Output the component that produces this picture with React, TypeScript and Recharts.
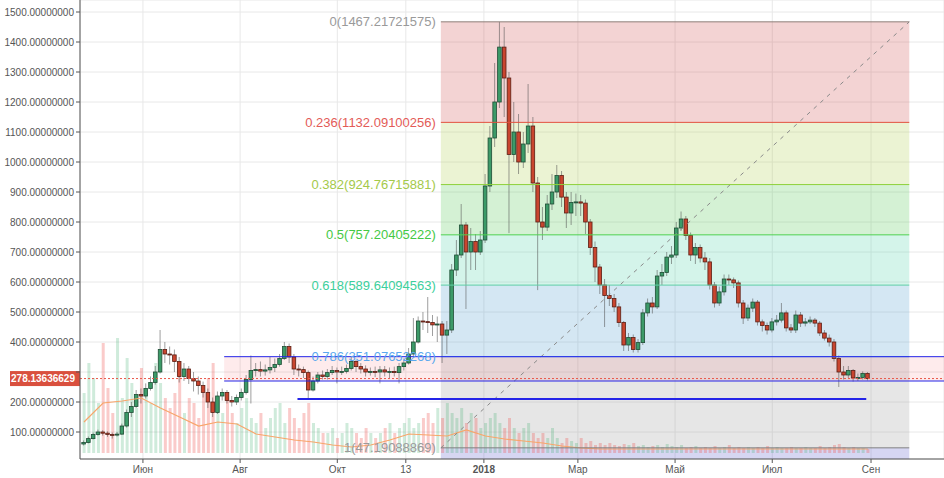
import React from "react";
import {
  ComposedChart,
  Bar,
  Line,
  XAxis,
  YAxis,
  CartesianGrid,
  ReferenceArea,
  ReferenceLine,
  Cell,
} from "recharts";

// one candle every 3 days, days counted from 1 Jun 2017
const startDay = -37;
const stepDays = 3;
const firstOpen = 60;

const closes = [
  65, 78, 92, 100, 96, 92, 90, 93, 120, 165,
  185, 225, 220, 245, 265, 300, 375, 360, 357, 335,
  285, 310, 278, 270, 255, 232, 200, 165, 220, 232,
  205, 200, 215, 232, 275, 305, 308, 303, 307, 315,
  325, 345, 385, 350, 310, 308, 298, 240, 270, 290,
  285, 298, 305, 300, 302, 312, 335, 318, 310, 300,
  302, 300, 307, 300, 302, 298, 318, 330, 360, 400,
  470, 468, 465, 457, 460, 423, 440, 640, 690, 790,
  700, 735, 700, 740, 920, 1080, 1200, 1383, 1280, 1025,
  1100, 1000, 1060, 1120, 930, 800, 783, 860, 900, 955,
  883, 830, 865, 867, 863, 800, 715, 650, 590, 555,
  545, 517, 465, 390, 415, 375, 398, 497, 530, 517,
  620, 632, 683, 690, 780, 810, 755, 690, 715, 680,
  667, 590, 530, 567, 610, 607, 597, 530, 480, 513,
  533, 467, 455, 440, 467, 473, 497, 447, 440, 490,
  463, 467, 473, 463, 430, 413, 400, 345, 300, 290,
  305, 280, 282, 295, 278,
];

const highs = [
  72, 85, 98, 108, 106, 102, 98, 100, 128, 175,
  200, 240, 245, 262, 285, 320, 440, 400, 385, 375,
  350, 330, 320, 300, 285, 268, 245, 215, 235, 245,
  240, 220, 225, 245, 290, 355, 330, 335, 325, 350,
  345, 360, 400, 395, 360, 325, 318, 305, 285, 300,
  305, 310, 320, 315, 318, 325, 350, 340, 330, 322,
  315, 318, 320, 320, 315, 318, 330, 345, 380, 480,
  485, 500, 550, 490, 485, 470, 470, 660, 740, 860,
  800, 780, 760, 770, 960, 1120, 1330, 1467, 1450, 1300,
  1200, 1160, 1100, 1260, 1150, 950, 850, 890, 960, 990,
  970, 900, 900, 895, 890, 875, 810, 735, 660, 610,
  590, 560, 530, 470, 430, 425, 410, 510, 545, 550,
  640, 660, 700, 720, 800, 835, 820, 765, 730, 725,
  700, 680, 600, 585, 625, 625, 615, 605, 540, 525,
  545, 540, 475, 465, 480, 490, 530, 505, 460, 505,
  500, 480, 485, 480, 470, 440, 425, 410, 355, 320,
  320, 310, 295, 302, 300,
];

const lows = [
  55, 62, 75, 88, 88, 84, 78, 85, 90, 115,
  150, 180, 195, 212, 238, 258, 295, 330, 325, 300,
  265, 270, 260, 235, 225, 215, 180, 150, 160, 205,
  195, 185, 190, 205, 225, 195, 285, 285, 288, 295,
  300, 318, 340, 330, 290, 285, 280, 210, 235, 262,
  275, 275, 290, 262, 290, 295, 305, 300, 295, 285,
  288, 283, 262, 285, 280, 285, 262, 305, 325, 350,
  395, 440, 430, 420, 400, 330, 360, 430, 620, 680,
  510, 640, 640, 690, 730, 900, 1050, 1180, 1150, 763,
  1000, 960, 980, 1030, 900, 573, 740, 770, 840, 880,
  850, 780, 790, 820, 820, 760, 690, 600, 560, 450,
  520, 500, 450, 370, 370, 365, 365, 390, 485, 495,
  510, 590, 620, 660, 680, 770, 740, 670, 660, 665,
  640, 575, 515, 520, 555, 590, 580, 515, 460, 470,
  500, 455, 435, 425, 432, 455, 465, 435, 430, 430,
  450, 452, 460, 450, 420, 405, 385, 335, 250, 275,
  280, 268, 270, 275, 272,
];

const volumes = [
  60, 90, 75, 50, 110, 65, 40, 115, 55, 95,
  70, 45, 85, 60, 50, 90, 70, 55, 45, 60,
  80, 40, 55, 50, 35, 60, 75, 90, 50, 40,
  55, 40, 30, 45, 55, 35, 30, 40, 25, 35,
  45, 50, 30, 45, 35, 25, 40, 50, 30, 25,
  20, 20, 25, 15, 20, 30, 25, 20, 15, 25,
  20, 15, 20, 25, 30, 20, 25, 30, 35, 25,
  30, 35, 40, 30, 45, 35, 50, 40, 35, 45,
  30, 40, 35, 25, 30, 35, 40, 30, 25, 35,
  25, 20, 25, 30, 20, 15, 20, 15, 25, 15,
  10, 15, 12, 10, 15, 10, 12, 8, 10, 8,
  10, 8, 7, 9, 8, 10, 7, 8, 6, 7,
  8, 6, 9, 7, 6, 8, 5, 6, 7, 5,
  6, 5, 7, 5, 6, 8, 5, 6, 5, 6,
  5, 6, 5, 7, 5, 6, 5, 5, 6, 5,
  5, 6, 5, 5, 7, 5, 6, 8, 9, 6,
  5, 6, 5, 5, 4,
];

// volume moving average, one reading every 4th candle
const maEvery = 4;
const volMa = [
  31, 50, 52, 55, 45, 36, 27, 31, 29, 19,
  16, 13, 11, 8, 6, 8, 13, 19, 18, 17,
  23, 17, 14, 12, 10, 7, 5, 4, 4, 4,
  4, 4, 4, 4, 4, 4, 4, 4, 4, 4,
  4, 4,
];

const tickDays = [0, 61, 122, 165, 214, 273, 334, 395, 457];
const tickLabels = ["Июн", "Авг", "Окт", "13", "2018", "Мар", "Май", "Июл", "Сен"];
const priceTicks = [100, 200, 300, 400, 500, 600, 700, 800, 900, 1000, 1100, 1200, 1300, 1400, 1500];

const lastPrice = 278.13636629;

const fibHigh = 1467.21721575;
const fibLow = 47.19088869;
const fibStartDay = 187;
const fibEndDay = 481;
const fibLevels = [0, 0.236, 0.382, 0.5, 0.618, 0.786, 1];
const fibLineColors = ["#8e7f79", "#e2503f", "#8ed13a", "#4fd14f", "#5fcfa6", "#5aa8ee", "#808080"];
const fibLabelColors = ["#9a9a9a", "#e35b57", "#a4c94a", "#44c944", "#3ccf9c", "#5aa8ee", "#9a9a9a"];
const fibZoneColors = ["#cf4f4f", "#afcf4f", "#53c753", "#53d3ab", "#539fcf", "#9b9b9b"];
const fibBelowColor = "#5b5bcb";

const bandTop = 351.08;
const bandBottom = 270;
const bandStartDay = 51;
const supportPrice = 210;
const supportStartDay = 97;
const supportEndDay = 454;

const xDomain: [number, number] = [-39.5, 502.8];
const yDomain: [number, number] = [10, 1540];

const rows = closes.map((c, i) => ({
  t: startDay + i * stepDays,
  o: i === 0 ? firstOpen : closes[i - 1],
  c,
  h: highs[i],
  l: lows[i],
  vol: volumes[i],
  ma: i % maEvery === 0 ? volMa[i / maEvery] : null,
}));

const fibPrice = (lvl: number) => fibHigh - lvl * (fibHigh - fibLow);

const Candle = (props: any) => {
  const { x, y, width, height, payload } = props;
  if (x == null || payload == null) return null;
  const { o, c, h, l } = payload;
  const top = Math.min(y, y + height);
  const span = Math.abs(height);
  const k = h > l ? span / (h - l) : 0;
  const yo = top + (h - o) * k;
  const yc = top + (h - c) * k;
  const cx = x + width / 2;
  const up = c >= o;
  const bodyTop = Math.min(yo, yc);
  const bodyH = Math.max(1, Math.abs(yc - yo));
  return (
    <g>
      <line x1={cx} x2={cx} y1={top} y2={top + span} stroke="rgba(80,80,80,0.55)" strokeWidth={1} />
      <rect
        x={cx - 1.8}
        y={bodyTop}
        width={3.6}
        height={bodyH}
        fill={up ? "#3c9a68" : "#c9452f"}
        stroke={up ? "#1e4d35" : "#5b1f14"}
        strokeWidth={0.8}
      />
    </g>
  );
};

const PriceTag = (props: any) => {
  const vb = props.viewBox;
  if (!vb) return null;
  return (
    <g>
      <rect x={vb.x - 70} y={vb.y - 7.5} width={70} height={15} fill="#d9503e" />
      <text x={vb.x - 5} y={vb.y} dy="0.35em" textAnchor="end" fill="#fff" fontSize={10} fontWeight="bold">
        {lastPrice.toFixed(8)}
      </text>
    </g>
  );
};

const DayTick = (props: any) => {
  const { x, y, payload } = props;
  const i = tickDays.indexOf(payload.value);
  const label = i >= 0 ? tickLabels[i] : "";
  return (
    <text x={x} y={y} dy="0.71em" textAnchor="middle" fontSize={10} fill="#555" fontWeight={label === "2018" ? "bold" : "normal"}>
      {label}
    </text>
  );
};

// the 300 label sits under the last-price tag, so it is not written
const priceTickText = (v: number) => (Math.abs(v - lastPrice) < 40 ? "" : v.toFixed(8));

export default function App() {
  return (
    <div style={{ position: "absolute", left: 0, top: 0, fontFamily: "'Liberation Sans', Arial, sans-serif" }}>
      <ComposedChart width={944} height={478} data={rows} margin={{ top: 0, right: 0, bottom: 0, left: 0 }}>
        <CartesianGrid xAxisId="main" yAxisId="price" stroke="#e8e8e8" />

        {fibLevels.slice(0, -1).map((lvl, i) => (
          <ReferenceArea
            key={"z" + lvl}
            xAxisId="main"
            yAxisId="price"
            x1={fibStartDay}
            x2={fibEndDay}
            y1={fibPrice(fibLevels[i + 1])}
            y2={fibPrice(lvl)}
            fill={fibZoneColors[i]}
            fillOpacity={0.25}
            stroke="none"
          />
        ))}
        <ReferenceArea
          xAxisId="main"
          yAxisId="price"
          x1={fibStartDay}
          x2={fibEndDay}
          y1={yDomain[0]}
          y2={fibLow}
          fill={fibBelowColor}
          fillOpacity={0.25}
          stroke="none"
        />
        <ReferenceArea
          xAxisId="main"
          yAxisId="price"
          x1={bandStartDay}
          x2={xDomain[1]}
          y1={bandBottom}
          y2={bandTop}
          fill="#f23645"
          fillOpacity={0.1}
          stroke="none"
        />

        <Bar xAxisId="v" yAxisId="vol" dataKey="vol" barSize={3} isAnimationActive={false}>
          {rows.map((r, i) => (
            <Cell key={i} fill={r.c >= r.o ? "rgba(38,166,91,0.22)" : "rgba(239,83,80,0.3)"} />
          ))}
        </Bar>
        <Line
          xAxisId="v"
          yAxisId="vol"
          dataKey="ma"
          stroke="#f8a56a"
          strokeWidth={1.2}
          dot={false}
          connectNulls
          isAnimationActive={false}
        />

        <Bar
          xAxisId="main"
          yAxisId="price"
          dataKey={(d: any) => [d.l, d.h]}
          barSize={4}
          shape={<Candle />}
          isAnimationActive={false}
        />

        <ReferenceLine
          xAxisId="main"
          yAxisId="price"
          segment={[
            { x: fibStartDay, y: fibLow },
            { x: fibEndDay, y: fibHigh },
          ]}
          stroke="#8a8a8a"
          strokeDasharray="4 5"
        />
        {fibLevels.map((lvl, i) => (
          <ReferenceLine
            key={"l" + lvl}
            xAxisId="main"
            yAxisId="price"
            segment={[
              { x: fibStartDay, y: fibPrice(lvl) },
              { x: fibEndDay, y: fibPrice(lvl) },
            ]}
            stroke={fibLineColors[i]}
            strokeWidth={1}
            label={{
              value: `${lvl}(${fibPrice(lvl).toFixed(8)})`,
              position: "left",
              fill: fibLabelColors[i],
              fontSize: 13,
              offset: 5,
            }}
          />
        ))}

        <ReferenceLine
          xAxisId="main"
          yAxisId="price"
          segment={[
            { x: bandStartDay, y: bandTop },
            { x: xDomain[1], y: bandTop },
          ]}
          stroke="#2424e8"
        />
        <ReferenceLine
          xAxisId="main"
          yAxisId="price"
          segment={[
            { x: bandStartDay, y: bandBottom },
            { x: xDomain[1], y: bandBottom },
          ]}
          stroke="#2424e8"
        />
        <ReferenceLine
          xAxisId="main"
          yAxisId="price"
          segment={[
            { x: supportStartDay, y: supportPrice },
            { x: supportEndDay, y: supportPrice },
          ]}
          stroke="#2424e8"
          strokeWidth={2}
        />
        <ReferenceLine
          xAxisId="main"
          yAxisId="price"
          y={lastPrice}
          stroke="#e8584a"
          strokeDasharray="2 2"
          label={<PriceTag />}
        />

        <XAxis
          xAxisId="main"
          dataKey="t"
          type="number"
          domain={xDomain}
          allowDataOverflow
          ticks={tickDays}
          tick={<DayTick />}
          height={19}
          tickSize={4}
          tickMargin={3}
          axisLine={{ stroke: "#555" }}
          tickLine={{ stroke: "#555" }}
        />
        <XAxis xAxisId="v" dataKey="t" type="number" domain={xDomain} allowDataOverflow hide />
        <YAxis
          yAxisId="price"
          domain={yDomain}
          allowDataOverflow
          ticks={priceTicks}
          width={80}
          tickSize={4}
          tickFormatter={priceTickText}
          tick={{ fontSize: 10, fill: "#555" }}
          axisLine={{ stroke: "#555" }}
          tickLine={{ stroke: "#555" }}
        />
        <YAxis yAxisId="vol" domain={[-6, 453]} allowDataOverflow hide />
      </ComposedChart>
    </div>
  );
}
